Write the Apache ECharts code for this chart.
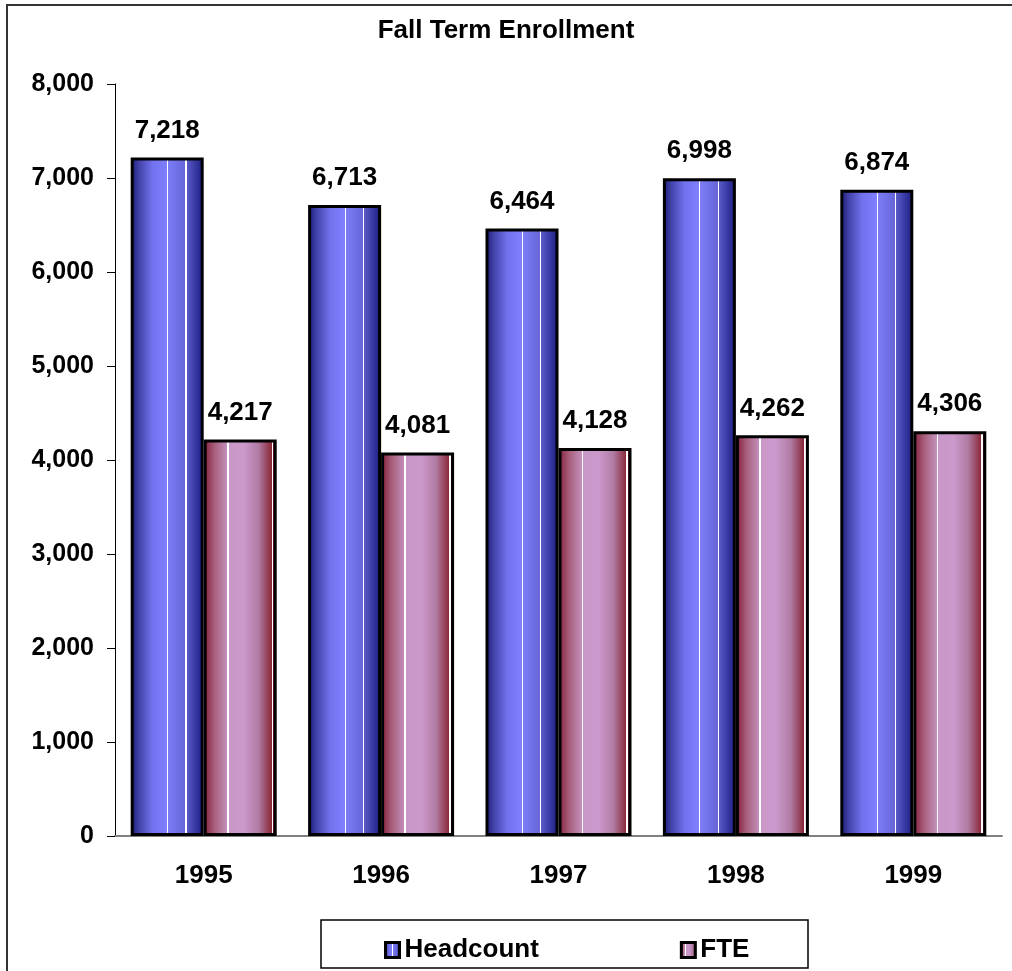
<!DOCTYPE html>
<html>
<head>
<meta charset="utf-8">
<script src="https://cdn.jsdelivr.net/npm/echarts@6/dist/echarts.min.js"></script>
<style>
  html, body { margin: 0; padding: 0; background: #fff; }
  #chart { width: 1012px; height: 971px; }
</style>
</head>
<body>
<div id="chart"></div>
<script>
// 数据
const years = ['1995', '1996', '1997', '1998', '1999']
const headcount = [7218, 6713, 6464, 6998, 6874]
const fte = [4217, 4081, 4128, 4262, 4306]
const yTicks = [0, 1000, 2000, 3000, 4000, 5000, 6000, 7000, 8000]

const font = '"Liberation Sans", Arial, sans-serif'
const fmt = v => v.toLocaleString('en-US')

// 圆柱样的横向渐变
const blueFill = {
  type: 'linear', x: 0, y: 0, x2: 1, y2: 0,
  colorStops: [
    { offset: 0, color: '#1a1a78' },
    { offset: 0.12, color: '#4444aa' },
    { offset: 0.3, color: '#7272ee' },
    { offset: 0.5, color: '#8080ff' },
    { offset: 0.5, color: '#ffffff' },
    { offset: 0.515, color: '#ffffff' },
    { offset: 0.515, color: '#7c7cf6' },
    { offset: 0.75, color: '#6666d8' },
    { offset: 0.75, color: '#ffffff' },
    { offset: 0.765, color: '#ffffff' },
    { offset: 0.765, color: '#5a5ac8' },
    { offset: 1, color: '#1a1a80' }
  ]
}
const pinkFill = {
  type: 'linear', x: 0, y: 0, x2: 1, y2: 0,
  colorStops: [
    { offset: 0, color: '#ffffff' },
    { offset: 0.03, color: '#ffffff' },
    { offset: 0.03, color: '#8a2a48' },
    { offset: 0.15, color: '#a8607c' },
    { offset: 0.32, color: '#c490bc' },
    { offset: 0.32, color: '#ffffff' },
    { offset: 0.34, color: '#ffffff' },
    { offset: 0.34, color: '#c898c8' },
    { offset: 0.55, color: '#cc99cc' },
    { offset: 0.75, color: '#b07ca4' },
    { offset: 0.93, color: '#8a2838' },
    { offset: 0.93, color: '#ffffff' },
    { offset: 0.955, color: '#ffffff' },
    { offset: 0.955, color: '#7a1a30' },
    { offset: 1, color: '#7a1a30' }
  ]
}

const labelStyle = {
  show: true,
  position: 'top',
  distance: 14,
  fontFamily: font,
  fontWeight: 'bold',
  fontSize: 26,
  color: '#000',
  formatter: p => fmt(p.value)
}

const option = {
  animation: false,
  title: {
    text: 'Fall Term Enrollment',
    left: 'center',
    top: 13,
    textStyle: { fontFamily: font, fontWeight: 'bold', fontSize: 26, color: '#000' }
  },
  legend: {
    left: 379,
    top: 932,
    itemGap: 141,
    itemWidth: 14,
    itemHeight: 15,
    icon: 'rect',
    textStyle: { fontFamily: font, fontWeight: 'bold', fontSize: 26, color: '#000' },
    data: [
      { name: 'Headcount', itemStyle: { borderColor: '#000', borderWidth: 3 } },
      { name: 'FTE', itemStyle: { borderColor: '#000', borderWidth: 3 } }
    ]
  },
  graphic: [
    { type: 'rect', shape: { x: 7, y: 5, width: 1020, height: 980 }, style: { fill: 'none', stroke: '#333', lineWidth: 2 }, silent: true },
    { type: 'rect', shape: { x: 321, y: 920, width: 487, height: 48 }, style: { fill: 'none', stroke: '#000', lineWidth: 1.5 }, silent: true }
  ],
  grid: { left: 115, right: 10, top: 84, bottom: 135 },
  xAxis: {
    type: 'category',
    data: years,
    axisLine: { lineStyle: { color: '#808080', width: 2 } },
    axisTick: { show: false },
    axisLabel: { margin: 27, fontFamily: font, fontWeight: 'bold', fontSize: 26, color: '#000' }
  },
  yAxis: {
    type: 'value',
    min: yTicks[0],
    max: yTicks[yTicks.length - 1],
    interval: 1000,
    axisLine: { show: true, lineStyle: { color: '#000', width: 1 } },
    axisTick: { show: true, length: 8, lineStyle: { color: '#000' } },
    splitLine: { show: false },
    axisLabel: { margin: 21, fontFamily: font, fontWeight: 'bold', fontSize: 25, color: '#000', formatter: v => fmt(v) }
  },
  series: [
    {
      name: 'Headcount',
      type: 'bar',
      data: headcount,
      barWidth: 73,
      barGap: '0%',
      itemStyle: { color: blueFill, borderColor: '#000', borderWidth: 3 },
      label: labelStyle
    },
    {
      name: 'FTE',
      type: 'bar',
      data: fte,
      barWidth: 73,
      itemStyle: { color: pinkFill, borderColor: '#000', borderWidth: 3 },
      label: labelStyle
    }
  ]
}

const myChart = echarts.init(document.getElementById('chart'))
myChart.setOption(option)
</script>
</body>
</html>
